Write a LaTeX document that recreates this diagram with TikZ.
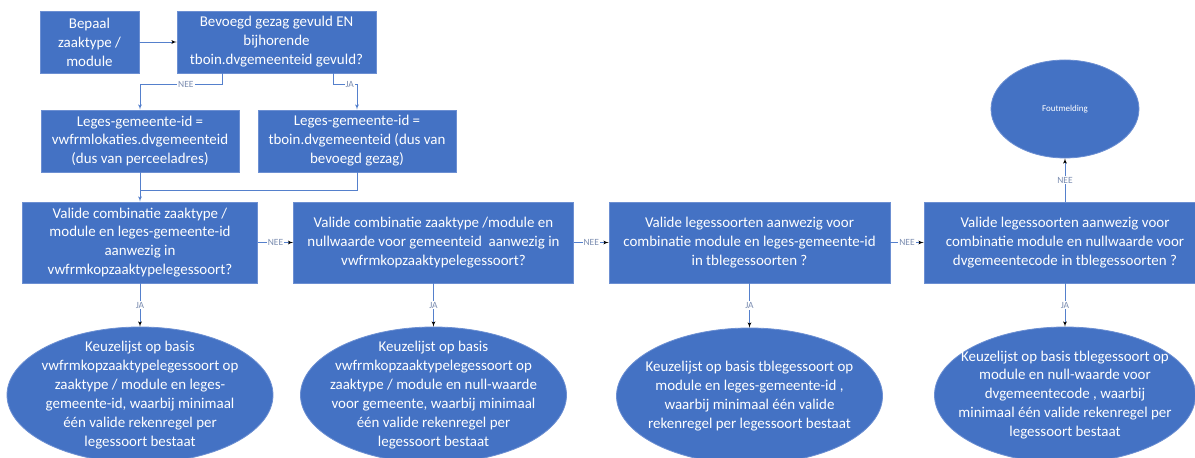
\documentclass[tikz,border=0pt]{standalone}
\usepackage{fontspec}
\setmainfont{Carlito}
\usetikzlibrary{arrows,shapes.geometric}
\definecolor{vakblauw}{HTML}{4472C4}
\definecolor{randblauw}{HTML}{6C8FD2}
\definecolor{lijnblauw}{HTML}{5580CC}
\definecolor{labelgrijs}{HTML}{7A8CB0}
\begin{document}
\begin{tikzpicture}[x=1bp,y=-1bp]
	\tikzset{vak/.style = {shape=rectangle,fill=vakblauw,draw=randblauw,line width=0.8bp,text=white,align=center,font=\fontsize{15}{19}\selectfont,inner sep=2bp}}
	\tikzset{keuze/.style = {shape=ellipse,fill=vakblauw,draw=randblauw,line width=0.8bp,text=white,align=center,font=\fontsize{15}{19}\selectfont,minimum width=266bp,minimum height=136bp,inner xsep=-30bp,inner ysep=-25bp}}
	\tikzset{conn/.style = {->,> = latex',draw=lijnblauw,line width=0.8bp}}
	\tikzset{lbl/.style = {fill=white,text=labelgrijs,font=\fontsize{9.5}{10}\selectfont,inner sep=1bp}}
	\useasboundingbox (0,0) rectangle (1195,458);
	% bovenste rij
	\node[vak,minimum width=99bp,minimum height=62bp] (bepaal) at (89.5,42) {Bepaal\\zaaktype /\\module};
	\node[vak,minimum width=199bp,minimum height=62bp] (bevoegd) at (276.5,42) {Bevoegd gezag gevuld EN\\bijhorende\\tboin.dvgemeenteid gevuld?};
	\node[vak,minimum width=198bp,minimum height=62bp] (lokatie) at (140,141) {Leges-gemeente-id =\\vwfrmlokaties.dvgemeenteid\\(dus van perceeladres)};
	\node[vak,minimum width=198bp,minimum height=62bp] (bevgez) at (357,141) {Leges-gemeente-id =\\tboin.dvgemeenteid (dus van\\bevoegd gezag)};
	\coordinate (samen) at (140,190);
	% rij met controles
	\node[vak,minimum width=235bp,minimum height=81bp] (combi1) at (140,242.5) {Valide combinatie zaaktype /\\module en leges-gemeente-id\\aanwezig in\\vwfrmkopzaaktypelegessoort?};
	\node[vak,minimum width=280bp,minimum height=81bp] (combi2) at (433.5,242.5) {Valide combinatie zaaktype /module en\\nullwaarde voor gemeenteid\ \ aanwezig in\\vwfrmkopzaaktypelegessoort?};
	\node[vak,minimum width=281bp,minimum height=81bp] (soort1) at (749.5,242.5) {Valide legessoorten aanwezig voor\\combinatie module en leges-gemeente-id\\in tblegessoorten ?};
	\node[vak,minimum width=282bp,minimum height=81bp] (soort2) at (1065,242.5) {Valide legessoorten aanwezig voor\\combinatie module en nullwaarde voor\\dvgemeentecode in tblegessoorten ?};
	% uitkomsten
	\node[keuze] (keuze1) at (140,395) {Keuzelijst op basis\\vwfrmkopzaaktypelegessoort op\\zaaktype / module en leges-\\gemeente-id, waarbij minimaal\\één valide rekenregel per\\legessoort bestaat};
	\node[keuze] (keuze2) at (433.5,395) {Keuzelijst op basis\\vwfrmkopzaaktypelegessoort op\\zaaktype / module en null-waarde\\voor gemeente, waarbij minimaal\\één valide rekenregel per\\legessoort bestaat};
	\node[keuze] (keuze3) at (749.5,396) {Keuzelijst op basis tblegessoort op\\module en leges-gemeente-id ,\\waarbij minimaal één valide\\rekenregel per legessoort bestaat};
	\node[keuze,minimum width=261bp] (keuze4) at (1065,395) {Keuzelijst op basis tblegessoort op\\module en null-waarde voor\\dvgemeentecode , waarbij\\minimaal één valide rekenregel per\\legessoort bestaat};
	\node[keuze,minimum width=148bp,minimum height=98bp,font=\fontsize{9}{11}\selectfont] (fout) at (1065,109) {Foutmelding};
	% verbindingen
	\path[conn] (bepaal) edge (bevoegd);
	\draw[conn] ([xshift=-54.5bp]bevoegd.south) -- ++(0,11) -| node[lbl,pos=.22] {NEE} (lokatie.north);
	\draw[conn] ([xshift=56.5bp]bevoegd.south) -- ++(0,11) -| node[lbl,pos=.35] {JA} (bevgez.north);
	\draw[conn] (lokatie.south) -- (combi1.north);
	\draw[draw=lijnblauw,line width=0.8bp] (bevgez.south) |- (samen);
	\path[conn] (combi1) edge node[lbl] {NEE} (combi2);
	\path[conn] (combi2) edge node[lbl] {NEE} (soort1);
	\path[conn] (soort1) edge node[lbl] {NEE} (soort2);
	\path[conn] (soort2) edge node[lbl] {NEE} (fout);
	\path[conn] (combi1) edge node[lbl] {JA} (keuze1);
	\path[conn] (combi2) edge node[lbl] {JA} (keuze2);
	\path[conn] (soort1) edge node[lbl] {JA} (keuze3);
	\path[conn] (soort2) edge node[lbl] {JA} (keuze4);
\end{tikzpicture}
\end{document}
